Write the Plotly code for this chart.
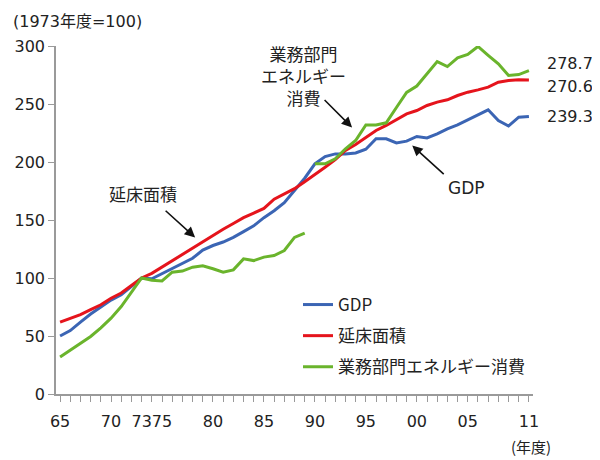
import plotly.graph_objects as go

years = list(range(1965, 2012))

gdp = [50, 54.7, 62, 69, 75, 81, 85.5, 92.5, 100, 99.3,
       103.6, 108, 112.2, 117, 124, 128, 131, 135, 140, 145,
       152, 158, 165, 176, 186, 198.4, 204.7, 207, 207, 207.8,
       211, 220, 220, 216.5, 218, 222, 220.7, 224.3, 228.6, 232,
       236.4, 241, 245, 235.8, 231, 238.6, 239.3]

floor_area = [62, 65.4, 68.5, 72.8, 76.9, 82.6, 87, 93.5, 100, 104,
              109.5, 115, 120.5, 126, 131, 137, 142, 147, 152, 156,
              160, 168, 172.5, 177, 183, 189, 195.5, 202, 210, 215,
              221, 227.2, 231.5, 236.4, 241.5, 244.4, 248.7, 251.6, 253.6, 257.3,
              260.2, 262.2, 264.5, 268.8, 270.3, 270.8, 270.6]

years_energy_old = list(range(1965, 1990))
energy_old = [32, 38, 43.8, 49.6, 57, 65.4, 75.4, 87.2, 100, 98,
              97.5, 105, 106, 109.3, 110.5, 108, 105, 107, 116.5, 115,
              118, 119.4, 123.7, 135, 138.6]

years_energy_new = list(range(1990, 2012))
energy_new = [198.4, 198.4, 202.7, 211.4, 218.5, 232, 232, 233.8, 247, 260,
              265.5, 276, 286.6, 282.3, 289.8, 292.7, 299.6, 292, 284.6, 274.6,
              275.4, 278.7]

tick_years = [1965, 1970, 1973, 1975, 1980, 1985, 1990, 1995, 2000, 2005, 2011]
tick_labels = ["65", "70", "73", "75", "80", "85", "90", "95", "00", "05", "11"]

names = ["GDP", "延床面積", "業務部門エネルギー消費"]
colors = ["#3b65b4", "#e5141c", "#6ab42c"]
end_labels = ["278.7", "270.6", "239.3"]

FONT = "DejaVu Sans, Noto Sans CJK JP, sans-serif"
JP = "Noto Sans CJK JP, sans-serif"

# page has an 8px body margin: figure drawn at (8, 8) in the window
OFF = 8
W, H = 600 - OFF, 460 - OFF
L, T = 56 - OFF, 46 - OFF
R = W - (533 - OFF)
B = H - (394 - OFF)
pw, ph = W - L - R, H - T - B


def px(xw):
    return (xw - OFF - L) / pw


def py(yw):
    return (H - B - (yw - OFF)) / ph


fig = go.Figure()
fig.add_trace(go.Scatter(x=years, y=gdp, mode="lines", name=names[0],
                         line=dict(color=colors[0], width=3), legendgroup="a"))
fig.add_trace(go.Scatter(x=years, y=floor_area, mode="lines", name=names[1],
                         line=dict(color=colors[1], width=3), legendgroup="b"))
fig.add_trace(go.Scatter(x=years_energy_old, y=energy_old, mode="lines", name=names[2],
                         line=dict(color=colors[2], width=3), legendgroup="c"))
fig.add_trace(go.Scatter(x=years_energy_new, y=energy_new, mode="lines", name=names[2],
                         line=dict(color=colors[2], width=3), legendgroup="c",
                         showlegend=False))

axis_col = "#9a9a9a"
fig.update_xaxes(range=[1964.6, 2011.4], tickvals=tick_years, ticktext=tick_labels,
                 tickangle=0, automargin=False,
                 ticks="outside", ticklen=6, tickcolor=axis_col, tickwidth=1,
                 minor=dict(tick0=1965, dtick=1, ticks="outside", ticklen=6,
                            tickcolor=axis_col, tickwidth=1),
                 showline=True, linecolor=axis_col, linewidth=1.5,
                 showgrid=False, zeroline=False, ticklabelstandoff=6,
                 tickfont=dict(size=16, color="#222", family=FONT))
fig.update_yaxes(range=[0, 300], tickvals=[0, 50, 100, 150, 200, 250, 300],
                 automargin=False,
                 ticks="outside", ticklen=6, tickcolor=axis_col, tickwidth=1,
                 showline=True, linecolor=axis_col, linewidth=1.5,
                 showgrid=False, zeroline=False, ticklabelstandoff=0,
                 tickfont=dict(size=16, color="#222", family=FONT))

ann = []
# end-value labels
for yv, txt in zip([285, 265, 239], end_labels):
    ann.append(dict(x=px(545), y=yv, xref="paper", yref="y", text=txt, showarrow=False,
                    xanchor="left", yanchor="middle",
                    font=dict(size=16, color="#222", family=FONT)))
# text labels
ann.append(dict(x=1973.1, y=173, text="延床面積", showarrow=False,
                font=dict(size=17, color="#222", family=JP)))
ann.append(dict(x=1988.85, y=274.5, text="業務部門<br>エネルギー<br>消費", showarrow=False,
                font=dict(size=17, color="#222", family=JP)))
ann.append(dict(x=2004.9, y=178, text="GDP", showarrow=False,
                font=dict(size=17, color="#222", family=FONT)))
# arrows
for (hx, hy, ax, ay) in [(1978.25, 135, -31, -28), (1993.65, 229.7, -29, -29),
                         (1999.55, 214.2, 33, 30)]:
    ann.append(dict(x=hx, y=hy, ax=ax, ay=ay, text="", showarrow=True,
                    arrowhead=2, arrowsize=1.3, arrowwidth=1.6, arrowcolor="#111"))
# axis captions
ann.append(dict(x=px(11), y=py(10), xref="paper", yref="paper",
                xanchor="left", yanchor="top",
                text="(1973年度=100)", showarrow=False,
                font=dict(size=16, color="#222", family=FONT)))
ann.append(dict(x=px(531), y=py(446), xref="paper", yref="paper",
                xanchor="center", yanchor="middle",
                text="(年度)", showarrow=False,
                font=dict(size=15, color="#222", family=JP)))

fig.update_layout(
    width=W, height=H,
    margin=dict(l=L, r=R, t=T, b=B, autoexpand=False),
    paper_bgcolor="white", plot_bgcolor="white",
    font=dict(family=FONT, size=16, color="#222"),
    showlegend=True,
    legend=dict(x=px(298), y=py(287), xanchor="left", yanchor="top",
                bgcolor="rgba(0,0,0,0)", tracegroupgap=6,
                font=dict(size=17, family=JP, color="#222")),
    annotations=ann,
)

fig.write_html("out.html")
